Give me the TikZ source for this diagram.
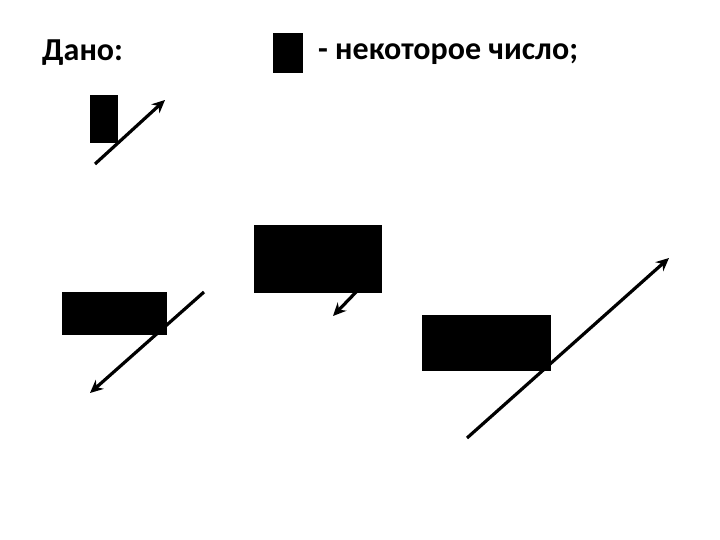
\documentclass[tikz,border=0pt]{standalone}
\usepackage{fontspec}
\setmainfont{Carlito}
\usetikzlibrary{arrows.meta}
\begin{document}
\begin{tikzpicture}[x=1pt,y=-1pt,
  blk/.style={fill=black,draw=none,inner sep=0pt,anchor=north west},
  lbl/.style={font=\bfseries\fontsize{32}{36}\selectfont,inner sep=0pt,anchor=base west},
  vec/.style={line width=3.2pt,-{Stealth[length=13pt,width=12pt]}}]
\useasboundingbox[fill=white] (0,0) rectangle (720,540);
\node[lbl] (given) at (42,61) {Дано:};
\node[blk,minimum width=30pt,minimum height=40pt] (key) at (273,33) {};
\node[lbl] (keytext) at (318,60) {- некоторое число;};
\node[blk,minimum width=28pt,minimum height=48pt] (r1) at (90,95) {};
\node[blk,minimum width=128pt,minimum height=68pt] (r2) at (254,225) {};
\node[blk,minimum width=105pt,minimum height=43pt] (r3) at (62,292) {};
\node[blk,minimum width=129pt,minimum height=56pt] (r4) at (422,315) {};
\coordinate (a1s) at (95,164); \coordinate (a1e) at (165,100);
\coordinate (a2s) at (358,290); \coordinate (a2e) at (333,316);
\coordinate (a3s) at (204,292); \coordinate (a3e) at (90,393);
\coordinate (a4s) at (467,438); \coordinate (a4e) at (669,258);
\draw[vec] (a1s) -- (a1e);
\draw[vec] (a2s) -- (a2e);
\draw[vec] (a3s) -- (a3e);
\draw[vec] (a4s) -- (a4e);
\end{tikzpicture}
\end{document}
